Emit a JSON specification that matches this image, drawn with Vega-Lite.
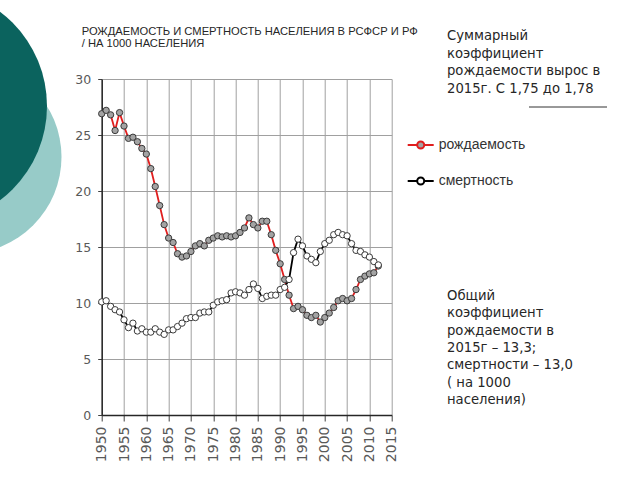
{
  "$schema": "https://vega.github.io/schema/vega-lite/v6.json",
  "width": 290,
  "height": 336,
  "autosize": {"type": "none"},
  "padding": {"left": 101.7, "top": 79, "right": 248.3, "bottom": 65},
  "background": "white",
  "config": {"view": {"stroke": null}, "font": "DejaVu Sans", "axis": {"labelOverlap": false}, "axisX": {"labelOverlap": false, "labelSeparation": 0}},
  "datasets": {
    "main": [
      {"year":1950,"series":"рождаемость","value":26.9},{"year":1951,"series":"рождаемость","value":27.2},{"year":1952,"series":"рождаемость","value":26.8},{"year":1953,"series":"рождаемость","value":25.4},{"year":1954,"series":"рождаемость","value":27.0},{"year":1955,"series":"рождаемость","value":25.8},{"year":1956,"series":"рождаемость","value":24.7},{"year":1957,"series":"рождаемость","value":24.8},{"year":1958,"series":"рождаемость","value":24.4},{"year":1959,"series":"рождаемость","value":23.8},
      {"year":1960,"series":"рождаемость","value":23.3},{"year":1961,"series":"рождаемость","value":22.0},{"year":1962,"series":"рождаемость","value":20.4},{"year":1963,"series":"рождаемость","value":18.7},{"year":1964,"series":"рождаемость","value":17.0},{"year":1965,"series":"рождаемость","value":15.8},{"year":1966,"series":"рождаемость","value":15.4},{"year":1967,"series":"рождаемость","value":14.4},{"year":1968,"series":"рождаемость","value":14.1},{"year":1969,"series":"рождаемость","value":14.2},
      {"year":1970,"series":"рождаемость","value":14.6},{"year":1971,"series":"рождаемость","value":15.1},{"year":1972,"series":"рождаемость","value":15.3},{"year":1973,"series":"рождаемость","value":15.1},{"year":1974,"series":"рождаемость","value":15.6},{"year":1975,"series":"рождаемость","value":15.8},{"year":1976,"series":"рождаемость","value":16.0},{"year":1977,"series":"рождаемость","value":15.9},{"year":1978,"series":"рождаемость","value":16.0},{"year":1979,"series":"рождаемость","value":15.9},
      {"year":1980,"series":"рождаемость","value":16.0},{"year":1981,"series":"рождаемость","value":16.3},{"year":1982,"series":"рождаемость","value":16.7},{"year":1983,"series":"рождаемость","value":17.6},{"year":1984,"series":"рождаемость","value":17.0},{"year":1985,"series":"рождаемость","value":16.7},{"year":1986,"series":"рождаемость","value":17.3},{"year":1987,"series":"рождаемость","value":17.3},{"year":1988,"series":"рождаемость","value":16.1},{"year":1989,"series":"рождаемость","value":14.7},
      {"year":1990,"series":"рождаемость","value":13.5},{"year":1991,"series":"рождаемость","value":12.1},{"year":1992,"series":"рождаемость","value":10.7},{"year":1993,"series":"рождаемость","value":9.5},{"year":1994,"series":"рождаемость","value":9.7},{"year":1995,"series":"рождаемость","value":9.4},{"year":1996,"series":"рождаемость","value":8.9},{"year":1997,"series":"рождаемость","value":8.7},{"year":1998,"series":"рождаемость","value":8.9},{"year":1999,"series":"рождаемость","value":8.3},
      {"year":2000,"series":"рождаемость","value":8.7},{"year":2001,"series":"рождаемость","value":9.1},{"year":2002,"series":"рождаемость","value":9.6},{"year":2003,"series":"рождаемость","value":10.2},{"year":2004,"series":"рождаемость","value":10.4},{"year":2005,"series":"рождаемость","value":10.2},{"year":2006,"series":"рождаемость","value":10.4},{"year":2007,"series":"рождаемость","value":11.2},{"year":2008,"series":"рождаемость","value":12.1},{"year":2009,"series":"рождаемость","value":12.4},
      {"year":2010,"series":"рождаемость","value":12.6},{"year":2011,"series":"рождаемость","value":12.7},{"year":2012,"series":"рождаемость","value":13.3},
      {"year":1950,"series":"смертность","value":10.1},{"year":1951,"series":"смертность","value":10.2},{"year":1952,"series":"смертность","value":9.7},{"year":1953,"series":"смертность","value":9.4},{"year":1954,"series":"смертность","value":9.2},{"year":1955,"series":"смертность","value":8.5},{"year":1956,"series":"смертность","value":7.8},{"year":1957,"series":"смертность","value":8.2},{"year":1958,"series":"смертность","value":7.5},{"year":1959,"series":"смертность","value":7.7},
      {"year":1960,"series":"смертность","value":7.4},{"year":1961,"series":"смертность","value":7.4},{"year":1962,"series":"смертность","value":7.7},{"year":1963,"series":"смертность","value":7.4},{"year":1964,"series":"смертность","value":7.2},{"year":1965,"series":"смертность","value":7.6},{"year":1966,"series":"смертность","value":7.6},{"year":1967,"series":"смертность","value":7.9},{"year":1968,"series":"смертность","value":8.2},{"year":1969,"series":"смертность","value":8.6},
      {"year":1970,"series":"смертность","value":8.7},{"year":1971,"series":"смертность","value":8.7},{"year":1972,"series":"смертность","value":9.1},{"year":1973,"series":"смертность","value":9.2},{"year":1974,"series":"смертность","value":9.2},{"year":1975,"series":"смертность","value":9.8},{"year":1976,"series":"смертность","value":10.1},{"year":1977,"series":"смертность","value":10.2},{"year":1978,"series":"смертность","value":10.3},{"year":1979,"series":"смертность","value":10.9},
      {"year":1980,"series":"смертность","value":11.0},{"year":1981,"series":"смертность","value":10.9},{"year":1982,"series":"смертность","value":10.7},{"year":1983,"series":"смертность","value":11.2},{"year":1984,"series":"смертность","value":11.7},{"year":1985,"series":"смертность","value":11.3},{"year":1986,"series":"смертность","value":10.4},{"year":1987,"series":"смертность","value":10.6},{"year":1988,"series":"смертность","value":10.7},{"year":1989,"series":"смертность","value":10.7},
      {"year":1990,"series":"смертность","value":11.2},{"year":1991,"series":"смертность","value":11.4},{"year":1992,"series":"смертность","value":12.1},{"year":1993,"series":"смертность","value":14.5},{"year":1994,"series":"смертность","value":15.7},{"year":1995,"series":"смертность","value":15.1},{"year":1996,"series":"смертность","value":14.2},{"year":1997,"series":"смертность","value":13.9},{"year":1998,"series":"смертность","value":13.6},{"year":1999,"series":"смертность","value":14.6},
      {"year":2000,"series":"смертность","value":15.3},{"year":2001,"series":"смертность","value":15.6},{"year":2002,"series":"смертность","value":16.1},{"year":2003,"series":"смертность","value":16.3},{"year":2004,"series":"смертность","value":16.1},{"year":2005,"series":"смертность","value":16.0},{"year":2006,"series":"смертность","value":15.3},{"year":2007,"series":"смертность","value":14.7},{"year":2008,"series":"смертность","value":14.6},{"year":2009,"series":"смертность","value":14.3},
      {"year":2010,"series":"смертность","value":14.1},{"year":2011,"series":"смертность","value":13.7},{"year":2012,"series":"смертность","value":13.4}
    ]
  },
  "layer": [
    {
      "data": {"values": [{"k": "light"}]},
      "mark": {"type": "point", "shape": "circle", "filled": true, "fill": "#97cbc8", "opacity": 1, "strokeWidth": 0, "size": 37249, "x": -136.7, "y": 78},
      "encoding": {}
    },
    {
      "data": {"values": [{"k": "dark"}]},
      "mark": {"type": "point", "shape": "circle", "filled": true, "fill": "#0b635e", "opacity": 1, "strokeWidth": 0, "size": 55696, "x": -172.7, "y": 27},
      "encoding": {}
    },
    {
      "data": {"name": "main"},
      "encoding": {
        "x": {"field": "year", "type": "quantitative",
          "scale": {"domain": [1950, 2015], "nice": false, "zero": false},
          "axis": {"title": null, "values": [1950,1955,1960,1965,1970,1975,1980,1985,1990,1995,2000,2005,2010,2015],
            "format": "d", "labelAngle": 270, "labelFontSize": 14, "labelColor": "#595959", "labelFont": "DejaVu Sans",
            "labelOverlap": false, "labelBound": false, "labelFlush": false, "labelSeparation": 0,
            "tickSize": 6, "tickColor": "#404040", "labelPadding": 5, "domainColor": "#262626", "domainWidth": 1.5,
            "grid": true, "gridColor": "#a0a0a0", "gridWidth": 1}},
        "y": {"field": "value", "type": "quantitative",
          "scale": {"domain": [0, 30], "nice": false},
          "axis": {"title": null, "values": [0,5,10,15,20,25,30], "labelFontSize": 12.5, "labelColor": "#595959", "labelFont": "DejaVu Sans",
            "labelOverlap": false, "labelFlush": false,
            "tickSize": 4, "tickColor": "#404040", "labelPadding": 7, "domainColor": "#262626", "domainWidth": 1.5,
            "grid": true, "gridColor": "#a0a0a0", "gridWidth": 1}}
      },
      "layer": [
        {
          "mark": {"type": "line", "strokeWidth": 1.8},
          "encoding": {
            "color": {"field": "series", "type": "nominal",
              "scale": {"domain": ["рождаемость", "смертность"], "range": ["#e01e1e", "#000000"]},
              "legend": {"title": null, "orient": "none", "legendX": 305, "legendY": 52, "padding": 0,
                "symbolType": "M-1,0H-0.27M0.27,0H1M-0.27,0A0.27,0.27,0,1,1,0.27,0A0.27,0.27,0,1,1,-0.27,0Z",
                "symbolSize": 676, "symbolStrokeWidth": 2, "labelFont": "Liberation Sans", "labelFontSize": 14,
                "labelColor": "#333333", "labelOffset": 4, "rowPadding": 14,
                "encode": {"symbols": {"update": {"fill": {"signal": "datum.value === 'рождаемость' ? '#a0a0a0' : '#ffffff'"}}}}}}
          }
        },
        {
          "mark": {"type": "point", "shape": "circle", "filled": true, "size": 40, "stroke": "#3a3a3a", "strokeWidth": 1, "opacity": 1},
          "encoding": {
            "fill": {"field": "series", "type": "nominal",
              "scale": {"domain": ["рождаемость", "смертность"], "range": ["#a3a3a3", "#ffffff"]}, "legend": null}
          }
        }
      ]
    },
    {
      "data": {"values": [{"k": "title"}]},
      "mark": {"type": "text", "text": ["РОЖДАЕМОСТЬ И СМЕРТНОСТЬ НАСЕЛЕНИЯ В РСФСР И РФ", "/ НА 1000 НАСЕЛЕНИЯ"],
        "x": -20, "y": -44, "align": "left", "baseline": "alphabetic", "font": "Liberation Sans", "fontSize": 11.2, "lineHeight": 12.3, "color": "#262626"},
      "encoding": {}
    },
    {
      "data": {"values": [{"k": "note1"}]},
      "mark": {"type": "text", "text": ["Суммарный", "коэффициент", "рождаемости вырос в", "2015г. С 1,75 до 1,78"],
        "x": 345.3, "y": -39, "align": "left", "baseline": "alphabetic", "font": "DejaVu Sans", "fontSize": 13.2, "lineHeight": 17.5, "color": "#262626"},
      "encoding": {}
    },
    {
      "data": {"values": [{"k": "note2"}]},
      "mark": {"type": "text", "text": ["Общий", "коэффициент", "рождаемости в", "2015г – 13,3;", "смертности – 13,0", "( на 1000", "населения)"],
        "x": 345.3, "y": 221, "align": "left", "baseline": "alphabetic", "font": "DejaVu Sans", "fontSize": 13.2, "lineHeight": 17.3, "color": "#262626"},
      "encoding": {}
    },
    {
      "data": {"values": [{"k": "rule"}]},
      "mark": {"type": "rule", "color": "#333333", "strokeWidth": 1},
      "encoding": {"x": {"value": 427.3}, "x2": {"value": 505.3}, "y": {"value": 28}}
    }
  ]
}
